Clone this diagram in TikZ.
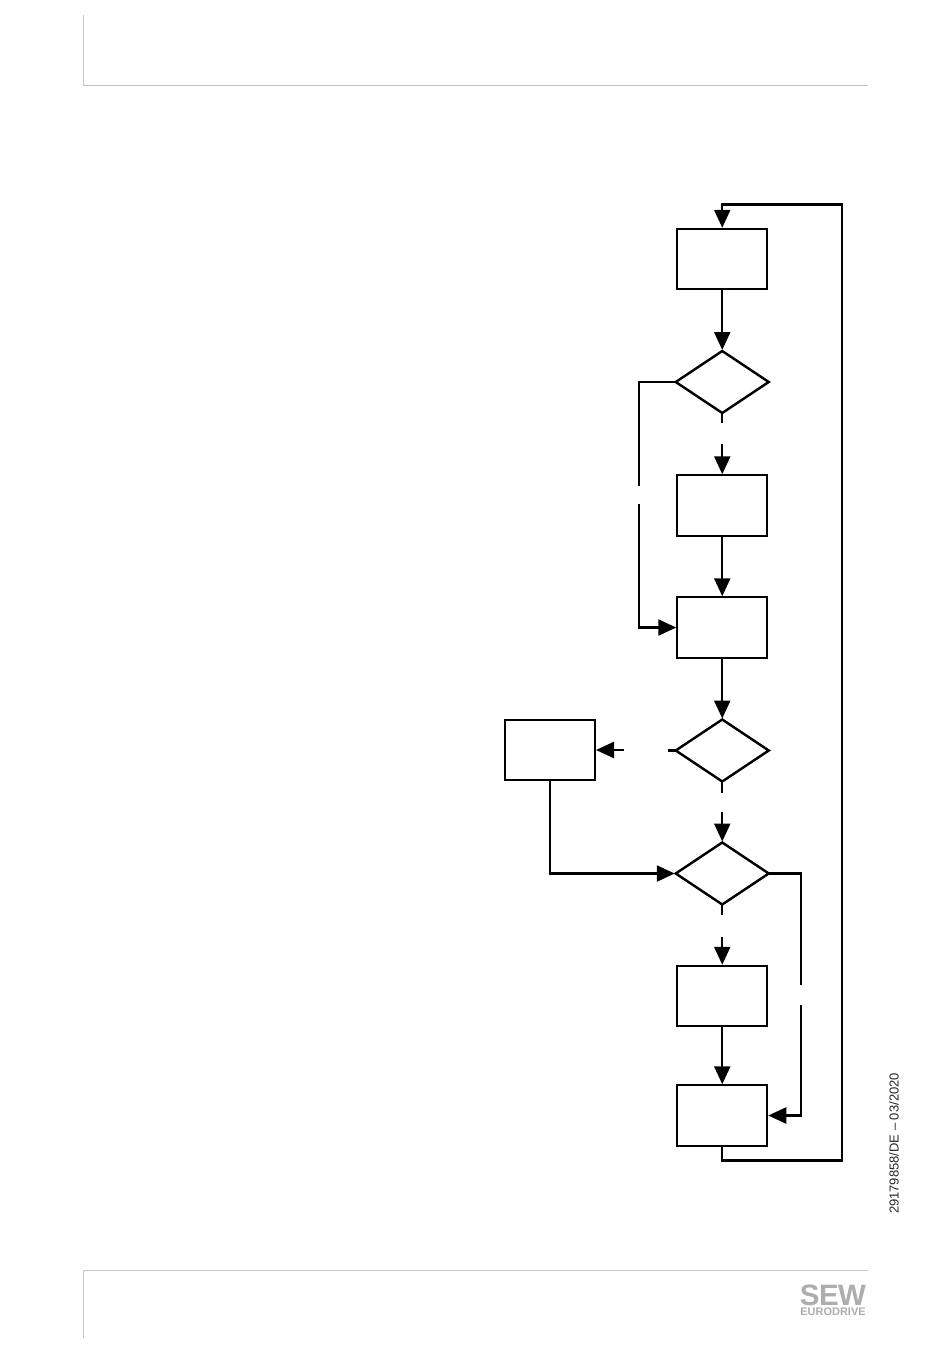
\documentclass[tikz,border=0pt]{standalone}
\usepackage{fontspec}
\setmainfont{Liberation Sans}
\usetikzlibrary{arrows.meta,shapes.geometric}
\definecolor{rule}{gray}{0.78}
\definecolor{logo}{gray}{0.68}
\tikzset{
  x=1pt,y=-1pt,
  boxnode/.style={draw=black,line width=2.4pt,minimum width=90pt,minimum height=60.5pt,inner sep=0pt,outer sep=0pt,rectangle},
  decision/.style={draw=black,line width=2.4pt,diamond,aspect=1.48,minimum width=93pt,minimum height=62pt,inner sep=0pt,outer sep=0pt},
  flow/.style={line width=2.4pt,draw=black,line join=miter},
  tip/.style={flow,-{Triangle[length=18pt,width=16pt]},shorten >=1pt},
  pagerule/.style={draw=rule,line width=1pt}
}
\begin{document}
\begin{tikzpicture}
\useasboundingbox (0,0) rectangle (950,1353);
% page furniture
\coordinate (ha) at (83.5,15);
\coordinate (hb) at (83.5,85.5);
\coordinate (hc) at (868,85.5);
\coordinate (fa) at (83.5,1338);
\coordinate (fb) at (83.5,1270.5);
\coordinate (fc) at (868,1270.5);
\draw[pagerule] (ha) -- (hb) -- (hc);
\draw[pagerule] (fa) -- (fb) -- (fc);
% shapes
\node[boxnode] (b1) at (722.25,259) {};
\node[decision] (d1) at (722.25,382) {};
\node[boxnode] (b2) at (722.25,505.5) {};
\node[boxnode] (b3) at (722.25,627.5) {};
\node[decision] (d2) at (722.25,750.5) {};
\node[boxnode] (b4) at (550,750) {};
\node[decision] (d3) at (722.25,873.5) {};
\node[boxnode] (b5) at (722.25,996) {};
\node[boxnode] (b6) at (722.25,1115.5) {};
% free ends around the gaps
\coordinate (d1s) at (722.25,423);
\coordinate (b2n) at (722.25,444);
\coordinate (d1w) at (639,382);
\coordinate (l1a) at (639,486);
\coordinate (l1b) at (639,504);
\coordinate (l1c) at (639,627.5);
\coordinate (d2w) at (668,750.5);
\coordinate (b4e) at (624,750);
\coordinate (d2s) at (722.25,793);
\coordinate (d3n) at (722.25,812);
\coordinate (d3s) at (722.25,915);
\coordinate (b5n) at (722.25,937);
\coordinate (r1) at (801,873.5);
\coordinate (r2) at (801,985);
\coordinate (r3) at (801,1005);
\coordinate (r4) at (801,1115.5);
\coordinate (k1) at (550,873.5);
\coordinate (o1) at (722.25,1160.5);
\coordinate (o2) at (842,1160.5);
\coordinate (o3) at (842,204.5);
\coordinate (o4) at (722.25,204.5);
% connectors
\draw[tip] (b1.south) -- (d1.north);
\draw[flow] (d1.south) -- (d1s);
\draw[tip] (b2n) -- (b2.north);
\draw[tip] (b2.south) -- (b3.north);
\draw[flow] (d1.west) -- (d1w) -- (l1a);
\draw[tip] (l1b) -- (l1c) -- (b3.west);
\draw[tip] (b3.south) -- (d2.north);
\draw[flow] (d2.west) -- (d2w);
\draw[tip] (b4e) -- (b4.east);
\draw[flow] (d2.south) -- (d2s);
\draw[tip] (d3n) -- (d3.north);
\draw[tip] (b4.south) -- (k1) -- (d3.west);
\draw[flow] (d3.south) -- (d3s);
\draw[tip] (b5n) -- (b5.north);
\draw[tip] (b5.south) -- (b6.north);
\draw[flow] (d3.east) -- (r1) -- (r2);
\draw[tip] (r3) -- (r4) -- (b6.east);
\draw[tip] (b6.south) -- (o1) -- (o2) -- (o3) -- (o4) -- (b1.north);
% texts
\node[rotate=90,anchor=center,inner sep=0pt,font=\fontsize{13}{15}\selectfont,text=black!85] (date) at (894,1143.5) {29179858/DE -- 03/2020};
\node[inner sep=0pt,align=center,font=\fontsize{11}{10}\selectfont\bfseries,text=logo] (sew) at (833,1300) {{\fontsize{29.5}{10}\selectfont\addfontfeature{LetterSpace=-2}SEW}\\EURODRIVE};
\end{tikzpicture}
\end{document}
